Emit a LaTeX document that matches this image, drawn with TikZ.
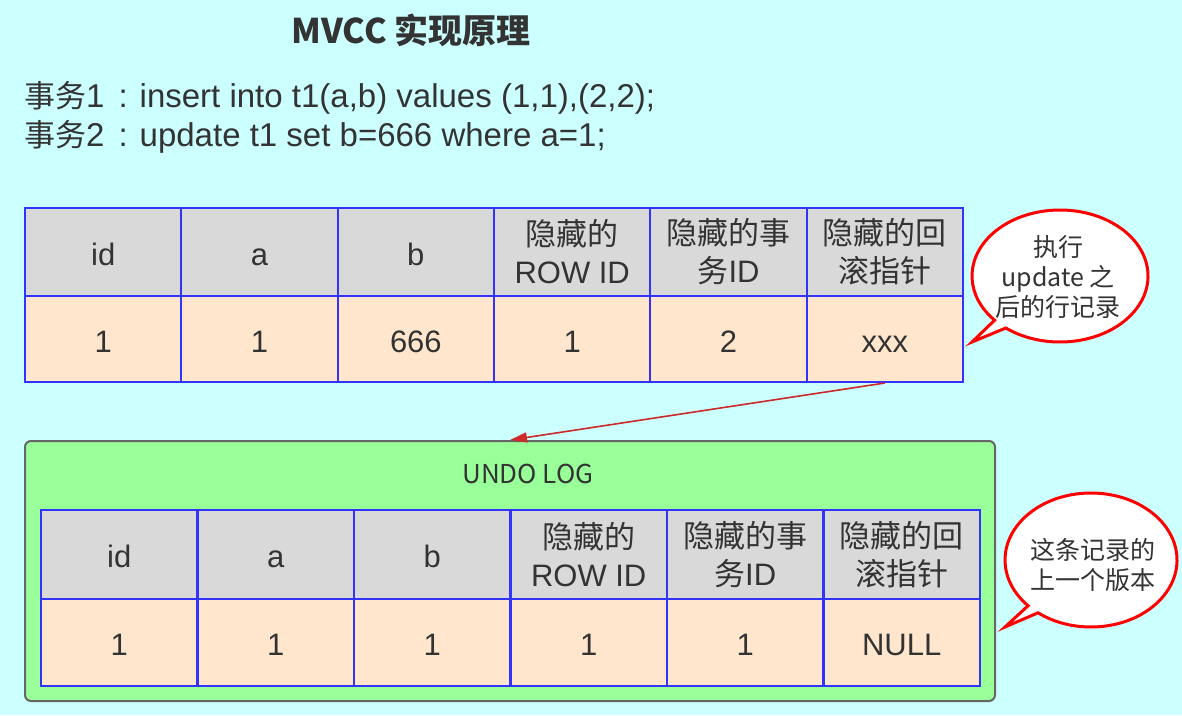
\documentclass[tikz,border=0pt]{standalone}
\usepackage{fontspec}
\setmainfont{Liberation Sans}
\newfontfamily\cjk{Noto Sans CJK SC}
\usetikzlibrary{arrows.meta}
\definecolor{bg}{HTML}{CCFFFF}
\definecolor{hgray}{HTML}{D9D9D9}
\definecolor{peach}{HTML}{FFE6CC}
\definecolor{tblue}{HTML}{3333FF}
\definecolor{lgreen}{HTML}{99FF99}
\definecolor{txt}{HTML}{333333}
\definecolor{boxgray}{HTML}{666666}
\definecolor{arrowred}{HTML}{CC2929}
\newcommand{\cj}[1]{{\cjk\fontsize{31}{38}\selectfont #1}}
\begin{document}
\begin{tikzpicture}[x=1pt,y=-1pt,
  cell/.style={draw=tblue, line width=2, minimum width=156.4, inner sep=0pt,
    anchor=north west, align=center, text=txt, font=\fontsize{31}{38}\selectfont},
  onecell/.style={cell, text height=26, text depth=0},
  hcell/.style={cell, fill=hgray},
  hcellone/.style={onecell, fill=hgray},
  dcell/.style={onecell, fill=peach},
  balloon/.style={draw=red, fill=white, line width=3, line join=miter},
  btext/.style={font=\cjk\fontsize{25}{30}\selectfont, align=center, text=txt},
  redarrow/.style={draw=arrowred, line width=1.6, -{Triangle[length=17,width=10]}},
  stmt/.style={anchor=west, inner sep=0pt, text=txt, font=\fontsize{33}{38}\selectfont}]
\useasboundingbox (0,0) rectangle (1182,715);
\fill[bg] (0,0) rectangle (1182,715);

% title and statements
\node[font=\cjk\bfseries\fontsize{34}{40}\selectfont, text=txt] (title) at (411,30) {MVCC 实现原理};
\node[stmt] (s1) at (24,98) {\cj{事务}1\hspace{14pt}:\hspace{12pt}insert into t1(a,b) values (1,1),(2,2);};
\node[stmt] (s2) at (24,137) {\cj{事务}2\hspace{14pt}:\hspace{12pt}update t1 set b=666 where a=1;};

% undo log box
\node[draw=boxgray, fill=lgreen, rounded corners=6, line width=2, minimum width=970,
  minimum height=260, anchor=north west, inner sep=0pt] (undo) at (24,440) {};
\node[font=\cjk\fontsize{26}{30}\selectfont, text=txt] (undolabel) at (528,474) {UNDO LOG};

% tables
\foreach \i/\t in {1/id,2/a,3/b}{
  \node[hcellone, minimum height=88] (ah\i) at ({24+(\i-1)*156.33},207) {\t};
  \node[hcellone, minimum height=89] (bh\i) at ({40+(\i-1)*156.5},509) {\t};
}
\foreach \i/\t in {4/{\cjk 隐藏的}\\ROW ID,5/{\cjk 隐藏的事}\\{\cjk 务}ID,6/{\cjk 隐藏的回}\\{\cjk 滚指针}}{
  \node[hcell, minimum height=88] (ah\i) at ({24+(\i-1)*156.33},207) {\t};
  \node[hcell, minimum height=89] (bh\i) at ({40+(\i-1)*156.5},509) {\t};
}
\foreach \i/\u/\v in {1/1/1,2/1/1,3/666/1,4/1/1,5/2/1,6/xxx/NULL}{
  \node[dcell, minimum height=86] (ad\i) at ({24+(\i-1)*156.33},295) {\u};
  \node[dcell, minimum height=87] (bd\i) at ({40+(\i-1)*156.5},598) {\v};
}

% arrow
\draw[redarrow] (ad6.south) -- (undo.north);

% callouts
\coordinate (c1c) at (1060,276);
\coordinate (c1tip) at (972,342);
\draw[balloon] (c1tip) -- ([shift={(128:88 and 66)}]c1c) arc[start angle=128, end angle=-222, x radius=88, y radius=66] -- cycle;
\node[btext] (c1) at (1058,277) {执行\\update 之\\后的行记录};

\coordinate (c2c) at (1091,560);
\coordinate (c2tip) at (1005,627);
\draw[balloon] (c2tip) -- ([shift={(128:86 and 67)}]c2c) arc[start angle=128, end angle=-223, x radius=86, y radius=67] -- cycle;
\node[btext] (c2) at (1093,565) {这条记录的\\上一个版本};
\end{tikzpicture}
\end{document}
